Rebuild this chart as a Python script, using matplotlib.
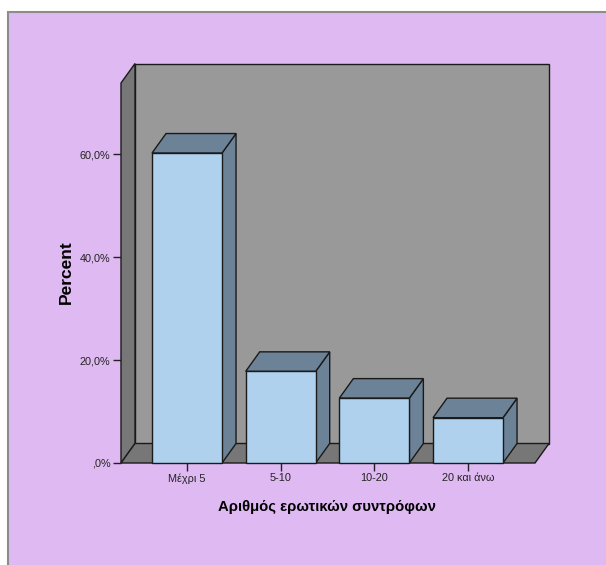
import matplotlib.pyplot as plt
from matplotlib.patches import Polygon, Rectangle

plt.rcParams['font.family'] = ['Liberation Sans', 'DejaVu Sans']

# Data
categories = ['Μέχρι 5', '5-10', '10-20', '20 και άνω']
percent = [60.2, 17.8, 12.6, 8.8]
y_ticks = [0, 20, 40, 60]
y_tick_labels = [',0%', '20,0%', '40,0%', '60,0%']

W, H = 606, 565
fig = plt.figure(figsize=(W / 100, H / 100), dpi=100)
fig.patch.set_facecolor('white')

# purple chart area with grey frame on top/left
fig.patches.append(Rectangle((7.5 / W, -0.05), 1.1, 1.05 - 12.5 / H,
                             transform=fig.transFigure, facecolor='#DFB9F2',
                             edgecolor='#8c8c8c', lw=1.5, zorder=-10))

# front plane of the 3D box
left_px, right_px, bottom_px, top_px = 121, 535, 463, 83
ax = fig.add_axes([left_px / W, (H - bottom_px) / H,
                   (right_px - left_px) / W, (bottom_px - top_px) / H])
ax.patch.set_visible(False)
xmin, xmax = -0.705, 3.715
ymax = 73.8
ax.set_xlim(xmin, xmax)
ax.set_ylim(0, ymax)
for s in ax.spines.values():
    s.set_visible(False)

# depth offset in data units (14 px right, 19.5 px up)
ddx = 14 * (xmax - xmin) / (right_px - left_px)
ddy = 19.5 * ymax / (bottom_px - top_px)

edge = '#1a1a1a'
wall = '#999999'
side_wall = '#777777'
bar_front = '#AFD1EE'
bar_dark = '#6B8297'

# back wall, left wall, floor
ax.add_patch(Rectangle((xmin + ddx, ddy), xmax - xmin, ymax, facecolor=wall,
                       edgecolor=edge, lw=1, clip_on=False, zorder=1))
ax.add_patch(Polygon([(xmin, 0), (xmin + ddx, ddy), (xmin + ddx, ymax + ddy), (xmin, ymax)],
                     closed=True, facecolor=side_wall, edgecolor=edge, lw=1,
                     clip_on=False, zorder=2))
ax.add_patch(Polygon([(xmin, 0), (xmax, 0), (xmax + ddx, ddy), (xmin + ddx, ddy)],
                     closed=True, facecolor=side_wall, edgecolor=edge, lw=1,
                     clip_on=False, zorder=2))

# bars
bw = 70 * (xmax - xmin) / (right_px - left_px)
for i, v in enumerate(percent):
    l, r = i - bw / 2, i + bw / 2
    ax.add_patch(Polygon([(r, 0), (r + ddx, ddy), (r + ddx, v + ddy), (r, v)],
                         closed=True, facecolor=bar_dark, edgecolor=edge, lw=1,
                         clip_on=False, zorder=3))
    ax.add_patch(Polygon([(l, v), (r, v), (r + ddx, v + ddy), (l + ddx, v + ddy)],
                         closed=True, facecolor=bar_dark, edgecolor=edge, lw=1,
                         clip_on=False, zorder=3))
    ax.add_patch(Rectangle((l, 0), bw, v, facecolor=bar_front, edgecolor=edge,
                           lw=1, clip_on=False, zorder=4))

ax.set_yticks(y_ticks)
ax.set_yticklabels(y_tick_labels)
ax.set_xticks(range(len(categories)))
ax.set_xticklabels(categories)
ax.tick_params(axis='both', length=6, width=1, color='#222222', labelsize=7.8,
               labelcolor='#222222', pad=1.5)

fig.text(66 / W, 1 - 272 / H, 'Percent', rotation=90, ha='center', va='center',
         fontsize=12.5, fontweight='bold')
fig.text(327 / W, 1 - 507 / H, 'Αριθμός ερωτικών συντρόφων', ha='center', va='center',
         fontsize=10.7, fontweight='bold')

fig.savefig('out.png', dpi=100, facecolor=fig.get_facecolor())
